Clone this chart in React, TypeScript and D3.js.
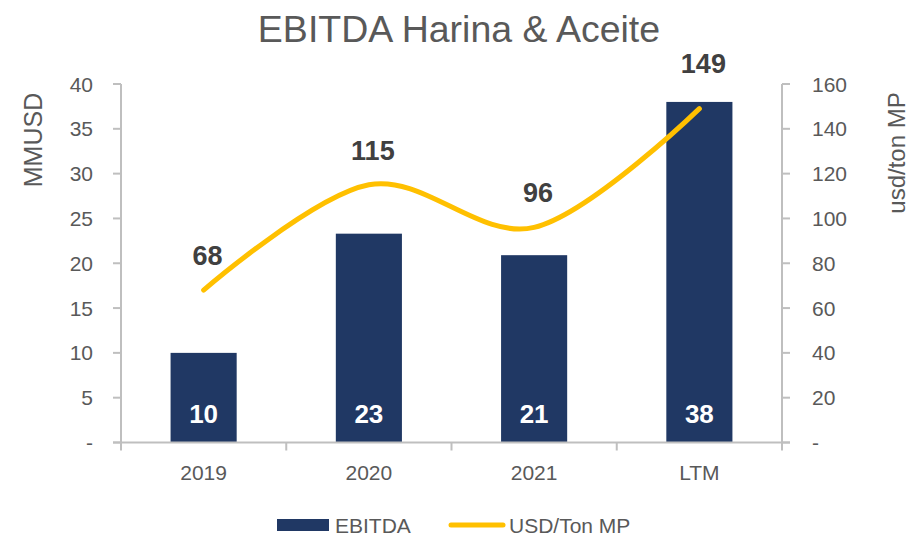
import * as d3 from 'd3';

const categories = ['2019', '2020', '2021', 'LTM'];
const ebitda = [10.0, 23.3, 20.9, 38.0];
const usdTon = [68, 115, 96, 149];
const leftTicks = [0, 5, 10, 15, 20, 25, 30, 35, 40];
const rightTicks = [0, 20, 40, 60, 80, 100, 120, 140, 160];

const W = 912;
const H = 538;
const margin = { top: 84, right: 130, bottom: 95.5, left: 121 };

const axisColor = '#bfbfbf';
const textColor = '#595959';
const barColor = '#203864';
const lineColor = '#ffc000';
const font = '"Liberation Sans", Arial, sans-serif';

const fmt = (v: number) => (v === 0 ? '-' : String(v));

export default function App() {
  const x0 = margin.left;
  const x1 = W - margin.right;
  const yBase = H - margin.bottom;

  const x = d3.scaleBand<string>().domain(categories).range([x0, x1]).padding(0);
  const bw = x.bandwidth();
  const barW = bw * 0.4;
  const cx = (c: string) => (x(c) ?? 0) + bw / 2;

  const yL = d3.scaleLinear().domain([0, 40]).range([yBase, margin.top]);
  const yR = d3.scaleLinear().domain([0, 160]).range([yBase, margin.top]);

  const line = d3
    .line<number>()
    .x((_, i) => cx(categories[i]))
    .y((d) => yR(d))
    .curve(d3.curveCardinal.tension(0));

  const edges = [...categories.map((c) => x(c) ?? 0), x1];

  return (
    <div style={{ position: 'absolute', left: 0, top: 0 }}>
      <svg width={W} height={H} style={{ display: 'block', fontFamily: font }}>
        <rect width={W} height={H} fill="#fff" />

        <text x={459} y={42} textAnchor="middle" fontSize={37.5} fill={textColor}>
          EBITDA Harina &amp; Aceite
        </text>

        {/* bars */}
        {categories.map((c, i) => (
          <rect
            key={c}
            x={cx(c) - barW / 2}
            y={yL(ebitda[i])}
            width={barW}
            height={yBase - yL(ebitda[i])}
            fill={barColor}
          />
        ))}

        {/* axes */}
        <g stroke={axisColor} strokeWidth={2} fill="none">
          <line x1={x0} x2={x0} y1={margin.top} y2={yBase} />
          <line x1={x1} x2={x1} y1={margin.top} y2={yBase} />
          <line x1={x0 - 8} x2={x1 + 8} y1={yBase} y2={yBase} />
          {leftTicks.map((t) => (
            <line key={'l' + t} x1={x0 - 8} x2={x0} y1={yL(t)} y2={yL(t)} />
          ))}
          {rightTicks.map((t) => (
            <line key={'r' + t} x1={x1} x2={x1 + 8} y1={yR(t)} y2={yR(t)} />
          ))}
          {edges.map((e, i) => (
            <line key={'x' + i} x1={e} x2={e} y1={yBase} y2={yBase + 8} />
          ))}
        </g>

        <g fontSize={21} fill={textColor}>
          {leftTicks.map((t) => (
            <text key={'lt' + t} x={93} y={yL(t)} dy="0.36em" textAnchor="end">
              {fmt(t)}
            </text>
          ))}
          {rightTicks.map((t) => (
            <text key={'rt' + t} x={812} y={yR(t)} dy="0.36em" textAnchor="start">
              {fmt(t)}
            </text>
          ))}
          {categories.map((c) => (
            <text key={'ct' + c} x={cx(c)} y={480} textAnchor="middle">
              {c}
            </text>
          ))}
        </g>

        <text
          transform={`translate(42,140) rotate(-90)`}
          textAnchor="middle"
          fontSize={25}
          fill={textColor}
        >
          MMUSD
        </text>
        <text
          transform={`translate(905,153) rotate(-90)`}
          textAnchor="middle"
          fontSize={24}
          fill={textColor}
        >
          usd/ton MP
        </text>

        {/* line */}
        <path
          d={line(usdTon) ?? ''}
          fill="none"
          stroke={lineColor}
          strokeWidth={5}
          strokeLinecap="round"
        />

        {/* labels */}
        {categories.map((c, i) => (
          <text
            key={'bl' + c}
            x={cx(c)}
            y={yBase - 29}
            dy="0.36em"
            textAnchor="middle"
            fontSize={26}
            fontWeight="bold"
            fill="#fff"
          >
            {Math.round(ebitda[i])}
          </text>
        ))}
        {categories.map((c, i) => (
          <text
            key={'ll' + c}
            x={cx(c) + 4}
            y={Math.min(yR(usdTon[i]) - 35, yL(ebitda[i]) - 39)}
            dy="0.36em"
            textAnchor="middle"
            fontSize={27}
            fontWeight="bold"
            fill="#404040"
          >
            {usdTon[i]}
          </text>
        ))}

        {/* legend */}
        <rect x={277} y={519} width={52} height={12} fill={barColor} />
        <text x={335} y={525} dy="0.36em" fontSize={21} fill={textColor}>
          EBITDA
        </text>
        <line
          x1={451}
          x2={503}
          y1={525}
          y2={525}
          stroke={lineColor}
          strokeWidth={5}
          strokeLinecap="round"
        />
        <text x={509} y={525} dy="0.36em" fontSize={21} fill={textColor}>
          USD/Ton MP
        </text>
      </svg>
    </div>
  );
}
